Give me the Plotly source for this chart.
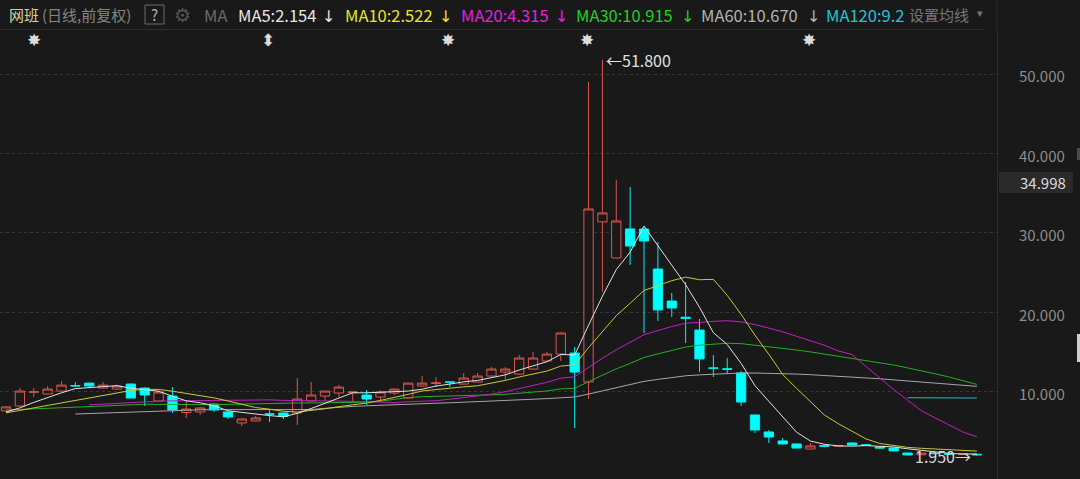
import plotly.graph_objects as go

# ---------------- data ----------------
day = list(range(71))

open_ = [7.58, 8.2, 9.93, 9.71, 10.08, 10.78, 11.08, 10.46, 10.33, 10.96,
         10.46, 8.83, 9.45, 7.38, 7.45, 8.45, 7.45, 6.06, 6.31, 7.2,
         7.32, 7.32, 8.83, 9.45, 9.83, 9.91, 9.58, 9.33, 9.83, 9.2,
         10.71, 11.06, 11.23, 10.96, 11.21, 11.97, 12.47, 12.22, 12.85, 13.86,
         14.74, 14.87, 11.22, 31.38, 26.84, 30.5, 30.48, 25.45, 21.42, 19.38,
         17.77, 12.99, 12.88, 12.36, 7.07, 4.93, 3.8, 3.42, 2.78, 3.21,
         3.14, 3.54, 3.31, 3.04, 2.91, 2.28, 2.06, 2.25, 2.2, 2.1, 2.12]
high = [8.18, 10.46, 10.46, 10.71, 11.34, 11.21, 11.13, 11.21, 10.88, 11.08,
        10.53, 10.21, 10.58, 8.83, 8.08, 8.48, 7.48, 6.62, 6.94, 7.68,
        7.38, 11.72, 11.21, 10.13, 10.83, 9.98, 10.21, 10.18, 10.38, 11.13,
        11.97, 11.85, 11.28, 12.35, 12.35, 13.1, 13.1, 14.62, 14.99, 14.99,
        17.42, 15.62, 49.0, 51.8, 36.66, 35.78, 30.63, 28.85, 22.43, 23.81,
        19.16, 14.62, 14.24, 12.6, 7.08, 5.18, 4.17, 3.46, 3.54, 3.31,
        3.26, 3.61, 3.36, 3.06, 2.96, 2.3, 2.3, 2.28, 2.22, 2.2, 2.14]
low = [7.48, 8.13, 9.33, 9.68, 10.03, 10.58, 10.46, 10.43, 10.28, 9.18,
       8.2, 8.78, 7.32, 6.7, 7.08, 7.48, 6.57, 5.68, 6.27, 6.18,
       6.56, 5.81, 8.78, 8.83, 9.33, 8.83, 8.33, 8.7, 9.58, 9.13,
       10.68, 10.58, 10.58, 10.93, 11.18, 11.94, 11.47, 12.19, 12.79, 13.8,
       13.86, 5.43, 9.08, 22.56, 26.76, 25.96, 17.39, 18.9, 19.41, 16.13,
       12.47, 11.85, 12.36, 8.2, 4.81, 3.54, 3.36, 2.85, 2.75, 3.01,
       3.11, 3.26, 3.21, 2.86, 2.51, 2.0, 2.02, 2.15, 2.08, 2.05, 1.95]
close = [8.08, 10.08, 9.98, 10.33, 10.83, 10.73, 10.71, 10.83, 10.71, 9.2,
         9.58, 9.96, 7.7, 7.82, 7.95, 7.7, 6.82, 6.56, 6.69, 7.18,
         6.88, 9.08, 9.58, 10.08, 10.58, 9.96, 9.08, 9.96, 10.33, 11.08,
         11.08, 11.1, 11.21, 11.72, 11.97, 12.85, 12.85, 14.24, 14.24, 14.74,
         17.39, 12.47, 33.01, 32.51, 31.5, 28.34, 28.98, 20.29, 20.54, 19.23,
         14.12, 12.96, 12.83, 8.7, 5.18, 4.29, 3.42, 2.9, 3.17, 3.14,
         3.21, 3.29, 3.26, 2.91, 2.54, 2.03, 2.25, 2.2, 2.12, 2.15, 2.05]

ma5 = [7.44, 7.96, 8.65, 9.3, 9.86, 10.39, 10.52, 10.69, 10.76, 10.44,
       10.21, 10.06, 9.43, 8.85, 8.6, 8.23, 7.6, 7.37, 7.14, 6.99,
       6.83, 7.28, 7.88, 8.56, 9.24, 9.86, 9.86, 9.93, 9.98, 10.08,
       10.31, 10.71, 10.96, 11.24, 11.42, 11.77, 12.12, 12.73, 13.23, 13.78,
       14.69, 14.62, 18.37, 22.02, 25.38, 27.57, 30.87, 28.32, 25.93, 23.48,
       20.63, 17.43, 15.94, 13.57, 10.76, 8.79, 6.88, 4.9, 3.79, 3.38,
       3.17, 3.14, 3.21, 3.16, 3.04, 2.81, 2.6, 2.39, 2.23, 2.15, 2.154]
ma10 = [7.33, 7.65, 7.95, 8.28, 8.6, 8.9, 9.25, 9.55, 9.85, 10.15,
        10.3, 10.29, 10.06, 9.81, 9.52, 9.22, 8.83, 8.4, 8.0, 7.8,
        7.53, 7.44, 7.63, 7.85, 8.12, 8.35, 8.57, 8.91, 9.27, 9.66,
        10.09, 10.29, 10.45, 10.61, 10.75, 11.04, 11.42, 11.85, 12.24, 12.6,
        13.23, 13.37, 15.55, 17.63, 19.58, 21.13, 22.75, 23.35, 23.98, 24.43,
        24.1, 24.15, 22.13, 19.75, 17.12, 14.71, 12.16, 10.42, 8.68, 7.07,
        5.98, 5.01, 4.06, 3.48, 3.21, 2.99, 2.87, 2.8, 2.7, 2.6, 2.522]
ma20 = [None, None, None, None, None, None, 8.35, 8.45, 8.55, 8.65,
        8.75, 8.8, 8.85, 8.88, 8.9, 8.93, 8.95, 8.97, 8.97, 8.97,
        8.91, 8.86, 8.84, 8.83, 8.82, 8.78, 8.7, 8.66, 8.64, 8.73,
        8.81, 8.87, 9.05, 9.24, 9.44, 9.7, 10.0, 10.38, 10.76, 11.18,
        11.7, 11.88, 13.05, 14.22, 15.27, 16.19, 17.18, 17.7, 18.21, 18.62,
        18.77, 18.86, 18.94, 18.79, 18.45, 18.02, 17.55, 16.98, 16.43, 15.85,
        15.14, 14.68, 13.19, 11.71, 10.26, 8.94, 7.6, 6.69, 5.77, 4.92, 4.315]
ma30 = [7.7, 7.75, 7.82, 7.9, 7.98, 8.05, 8.12, 8.2, 8.3, 8.42,
        8.42, 8.4, 8.38, 8.37, 8.37, 8.38, 8.4, 8.45, 8.5, 8.55,
        8.58, 8.58, 8.58, 8.6, 8.62, 8.65, 8.68, 8.8, 9.0, 9.27,
        9.37, 9.4, 9.44, 9.49, 9.53, 9.6, 9.67, 9.78, 9.9, 10.09,
        10.35, 10.43, 11.27, 12.09, 12.87, 13.56, 14.3, 14.76, 15.22, 15.62,
        15.86, 15.99, 16.1, 16.05, 15.87, 15.68, 15.49, 15.25, 15.01, 14.75,
        14.49, 14.23, 13.96, 13.67, 13.36, 13.0, 12.65, 12.25, 11.85, 11.43, 10.915]
ma60 = [None, None, None, None, None, 7.19, 7.25, 7.3, 7.38, 7.44,
        7.55, 7.62, 7.68, 7.7, 7.72, 7.74, 7.75, 7.76, 7.76, 7.75,
        7.73, 7.72, 7.75, 7.9, 8.05, 8.15, 8.22, 8.3, 8.38, 8.45,
        8.5, 8.55, 8.6, 8.66, 8.72, 8.8, 8.88, 8.96, 9.05, 9.13,
        9.23, 9.33, 9.7, 10.1, 10.5, 10.9, 11.3, 11.55, 11.8, 12.0,
        12.12, 12.22, 12.3, 12.35, 12.35, 12.33, 12.28, 12.22, 12.14, 12.05,
        11.97, 11.86, 11.75, 11.63, 11.49, 11.34, 11.2, 11.06, 10.92, 10.8, 10.67]
ma120 = [None] * 65 + [9.24, 9.23, 9.22, 9.22, 9.21, 9.2]

y_ticks = [10, 20, 30, 40, 50]
y_tick_text = ["10.000", "20.000", "30.000", "40.000", "50.000"]

# ---------------- figure ----------------
W, H = 1080, 479
ML, MR, MT, MB = 0, 83, 30, 0
PW, PH = W - ML - MR, H - MT - MB
BG = "#191919"
FONT = "Noto Sans CJK SC, Noto Sans, sans-serif"


def xp(px):
    return (px - ML) / PW


def yp(py):
    return (H - MB - py) / PH


fig = go.Figure()

fig.add_trace(go.Candlestick(
    x=day, open=open_, high=high, low=low, close=close,
    increasing=dict(line=dict(color="#dc564c", width=1), fillcolor=BG),
    decreasing=dict(line=dict(color="#00f0f0", width=1), fillcolor="#00ffff"),
    whiskerwidth=0, hoverinfo="skip", showlegend=False,
))

ma_specs = [
    (ma120, "#1fb8c8"),
    (ma60, "#a6a6a6"),
    (ma30, "#22b022"),
    (ma20, "#c21ec2"),
    (ma10, "#c8c83a"),
    (ma5, "#e2e2e2"),
]
for vals, col in ma_specs:
    fig.add_trace(go.Scatter(x=day, y=vals, mode="lines",
                             line=dict(color=col, width=1),
                             connectgaps=False, hoverinfo="skip",
                             showlegend=False))

annotations = []


def add_text(txt, px, py, color, size=15, anchor="left", family=FONT):
    annotations.append(dict(
        text=txt, x=xp(px), y=yp(py), xref="paper", yref="paper",
        xanchor=anchor, yanchor="middle", showarrow=False,
        font=dict(family=family, size=size, color=color)))


# header
HY = 15
add_text("网班", 7, HY, "#d6d29a", size=15)
add_text("(日线,前复权)", 40, HY, "#858585", size=15)
add_text("?", 154.5, HY, "#b0b0b0", size=15, anchor="center")
add_text("⚙", 182.5, HY, "#555555", size=19, anchor="center",
         family="DejaVu Sans")
add_text("MA", 202, HY, "#6a6a6a", size=16.5)
header_items = [
    ("MA5:2.154", 236, 320, "#e6e6e6"),
    ("MA10:2.522", 343, 437, "#e6e62a"),
    ("MA20:4.315", 459, 553, "#e020e0"),
    ("MA30:10.915", 574, 679, "#22cf22"),
    ("MA60:10.670", 699, 805, "#b4b4b4"),
]
for txt, x0, xa, col in header_items:
    add_text(txt, x0, HY, col, size=16.5)
    add_text("↓", xa, HY + 1, col, size=16, family="DejaVu Sans")
add_text("MA120:9.2", 824, HY, "#22c4d4", size=16.5)
add_text("设置均线", 907, HY, "#767676", size=15)
add_text("▾", 980, HY - 1, "#767676", size=11, anchor="center",
         family="DejaVu Sans")

# top event markers
for mx, sym in [(34, "✸"), (268, "⬍"), (448, "✸"), (587, "✸"), (809, "✸")]:
    add_text(sym, mx, 40, "#dcdcdc", size=17, anchor="center",
             family="DejaVu Sans")

# extreme labels (positioned on the data)
annotations.append(dict(
    text="←51.800", x=day[43] + 0.1, y=max(high), xref="x", yref="y",
    xanchor="left", yanchor="middle", showarrow=False,
    font=dict(family=FONT, size=16, color="#e0e0e0")))
annotations.append(dict(
    text="1.950→", x=day[70] - 0.25, y=min(low), xref="x", yref="y",
    xanchor="right", yanchor="middle", showarrow=False,
    font=dict(family=FONT, size=16, color="#d8d8d8")))

# price box on the axis
add_text("34.998", 1068, 182.5, "#dcdcdc", size=15, anchor="right")

shapes = [
    # header separators
    dict(type="line", xref="paper", yref="paper", x0=0, x1=xp(984),
         y0=yp(29.5), y1=yp(29.5), line=dict(color="#2c2c2c", width=1)),
    dict(type="line", xref="paper", yref="paper", x0=1, x1=1,
         y0=yp(0), y1=yp(30), line=dict(color="#2c2c2c", width=1)),
    # "?" box
    dict(type="rect", xref="paper", yref="paper", x0=xp(145), x1=xp(164),
         y0=yp(24), y1=yp(5), line=dict(color="#6a6a6a", width=1),
         fillcolor="rgba(0,0,0,0)"),
    # price box
    dict(type="rect", xref="paper", yref="paper", x0=xp(999), x1=xp(1073),
         y0=yp(193), y1=yp(172), line=dict(width=0), fillcolor="#2a2a2a",
         layer="below"),
    # right scroll marks
    dict(type="rect", xref="paper", yref="paper", x0=xp(1077), x1=xp(1080),
         y0=yp(362), y1=yp(334), line=dict(width=0), fillcolor="#cfcfcf"),
    dict(type="rect", xref="paper", yref="paper", x0=xp(1077), x1=xp(1080),
         y0=yp(160), y1=yp(148), line=dict(width=0), fillcolor="#4a4a4a"),
]

fig.update_layout(
    width=W, height=H,
    margin=dict(l=ML, r=MR, t=MT, b=MB, pad=0),
    paper_bgcolor=BG, plot_bgcolor=BG,
    showlegend=False,
    boxgap=0.33, boxgroupgap=0,
    annotations=annotations, shapes=shapes,
    font=dict(family=FONT, color="#8a8a8a"),
    xaxis=dict(range=[-0.433, 71.45], showgrid=False, zeroline=False,
               showticklabels=False, ticks="", rangeslider=dict(visible=False),
               fixedrange=True),
    yaxis=dict(range=[-0.995, 55.55], side="right",
               tickvals=y_ticks, ticktext=y_tick_text,
               showgrid=True, gridcolor="#383838", griddash="dot",
               gridwidth=1, zeroline=False,
               showline=True, linecolor="#2c2c2c", linewidth=1,
               ticks="", ticklabelstandoff=18, ticklabelshift=3,
               tickfont=dict(family=FONT, size=15, color="#8c8c8c"),
               fixedrange=True),
)

fig.write_html(
    "out.html",
    config={"displayModeBar": False},
    post_script="document.body.style.margin='0';"
                "document.body.style.overflow='hidden';"
                "document.body.style.background='#191919';",
)
